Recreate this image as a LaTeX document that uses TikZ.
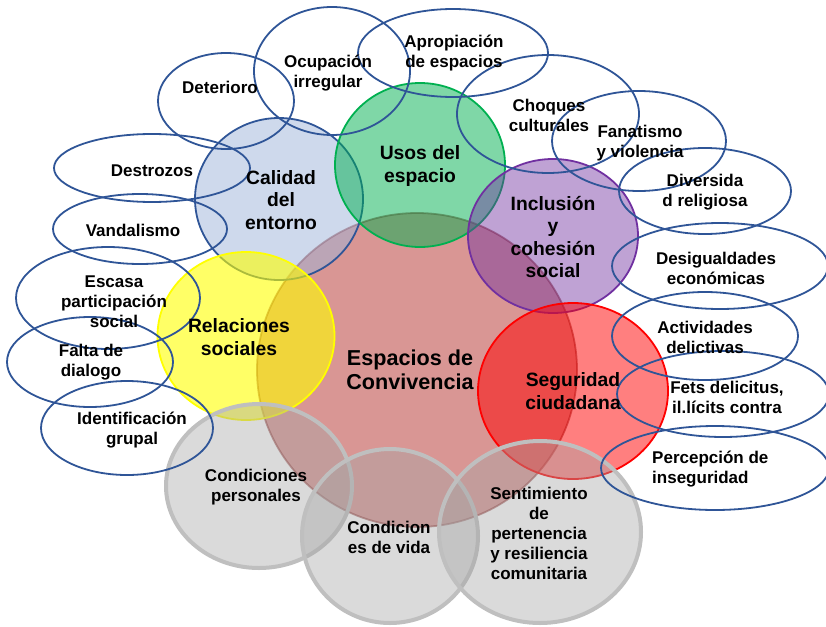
\documentclass[tikz,border=0pt]{standalone}
\usepackage{fontspec}
\setmainfont{Liberation Sans}
\usetikzlibrary{shapes.geometric}
\definecolor{ringblue}{HTML}{2F5597}
\definecolor{coreRed}{HTML}{C0504D}
\definecolor{coreEdge}{HTML}{8C3432}
\definecolor{calBlue}{HTML}{9DB3D9}
\definecolor{usoGreen}{HTML}{00B050}
\definecolor{incPurple}{HTML}{7030A0}
\definecolor{relYellow}{HTML}{FFFF00}
\definecolor{segRed}{HTML}{FF0000}
\definecolor{condFill}{HTML}{A6A6A6}
\definecolor{condEdge}{HTML}{BFBFBF}
\begin{document}
\begin{tikzpicture}[x=1pt,y=-1pt,
  rxy/.style 2 args={minimum width={2*#1}, minimum height={2*#2}},
  blob/.style={ellipse, inner sep=0pt, outer sep=0pt, line width=1.8pt},
  ring/.style={ellipse, inner sep=0pt, outer sep=0pt, draw=ringblue, line width=1.8pt},
  small/.style={font=\bfseries\fontsize{17}{20}\selectfont, align=center, inner sep=0pt},
  mid/.style={font=\bfseries\fontsize{19.3}{22.5}\selectfont, align=center, inner sep=0pt},
  large/.style={font=\bfseries\fontsize{21.6}{24.5}\selectfont, align=center, inner sep=0pt},
  condition/.style={blob, fill=condFill, fill opacity=.42, draw=condEdge, line width=4pt}
]
\useasboundingbox (0,0) rectangle (826,626);

% central circle
\node[blob, rxy={160}{157}, fill=coreRed, fill opacity=.6, draw=coreEdge, draw opacity=.6] (core) at (417,370) {};

% surrounding themes
\node[blob, rxy={84}{81}, fill=calBlue, fill opacity=.5, draw=ringblue] (calidad) at (279,199) {};
\node[blob, rxy={85}{82}, fill=usoGreen, fill opacity=.5, draw=usoGreen] (usos) at (420,165) {};
\node[blob, rxy={85}{77}, fill=incPurple, fill opacity=.45, draw=incPurple] (inclusion) at (553,236) {};
\node[blob, rxy={88.5}{84}, fill=relYellow, fill opacity=.6, draw=relYellow] (relaciones) at (246,336) {};
\node[blob, rxy={95}{88}, fill=segRed, fill opacity=.5, draw=segRed] (seguridad) at (573,391) {};
\node[condition, rxy={93}{82}] (personales) at (259,486) {};
\node[condition, rxy={88}{87}] (vida) at (390,536) {};
\node[condition, rxy={101}{91}] (sentimiento) at (540,532) {};

% outer factor rings
\node[ring, rxy={68}{48}] (deterioro) at (226,101) {};
\node[ring, rxy={78}{64}] (ocupacion) at (332,71) {};
\node[ring, rxy={95}{44}] (apropiacion) at (453,53) {};
\node[ring, rxy={91}{59}] (choques) at (548,114) {};
\node[ring, rxy={87}{50}] (fanatismo) at (639,141) {};
\node[ring, rxy={86}{43}] (diversidad) at (705,191) {};
\node[ring, rxy={108}{43}] (desigualdades) at (720,266) {};
\node[ring, rxy={93}{44}] (actividades) at (705,336) {};
\node[ring, rxy={106}{43}] (fets) at (723,394) {};
\node[ring, rxy={114}{42}] (percepcion) at (715,468) {};
\node[ring, rxy={98}{34}] (destrozos) at (152,168) {};
\node[ring, rxy={87}{35}] (vandalismo) at (140,229) {};
\node[ring, rxy={92}{51}] (escasa) at (108,298) {};
\node[ring, rxy={83}{45}] (falta) at (90,362) {};
\node[ring, rxy={86}{47}] (identificacion) at (127,428) {};

% labels of the circles
\node[large] (t-core) at (410,370) {Espacios de\\Convivencia};
\node[mid] (t-calidad) at (281,200) {Calidad\\del\\entorno};
\node[mid] (t-usos) at (420,166) {Usos del\\espacio};
\node[mid] (t-inclusion) at (553,237) {Inclusión\\y\\cohesión\\social};
\node[mid] (t-relaciones) at (239,337) {Relaciones\\sociales};
\node[mid] (t-seguridad) at (573,391) {Seguridad\\ciudadana};
\node[small] (t-personales) at (256,487) {Condiciones\\personales};
\node[small] (t-vida) at (389,537) {Condicion\\es de vida};
\node[small] (t-sentimiento) at (539,533) {Sentimiento\\de\\pertenencia\\y resiliencia\\comunitaria};

% labels of the rings
\node[small] (t-deterioro) at (220,87) {Deterioro};
\node[small] (t-ocupacion) at (328,73) {Ocupación\\irregular};
\node[small] (t-apropiacion) at (454,53) {Apropiación\\de espacios};
\node[small] (t-choques) at (549,115) {Choques\\culturales};
\node[small] (t-fanatismo) at (640,143) {Fanatismo\\y violencia};
\node[small] (t-diversidad) at (705,192) {Diversida\\d religiosa};
\node[small] (t-desigualdades) at (716,268) {Desigualdades\\económicas};
\node[small] (t-actividades) at (705,337) {Actividades\\delictivas};
\node[small] (t-fets) at (727,397) {Fets delicitus,\\il.lícits contra};
\node[small, align=left, anchor=west] (t-percepcion) at (652,469) {Percepción de\\inseguridad};
\node[small] (t-destrozos) at (152,171) {Destrozos};
\node[small] (t-vandalismo) at (133,230) {Vandalismo};
\node[small] (t-escasa) at (114,302) {Escasa\\participación\\social};
\node[small] (t-falta) at (91,362) {Falta de\\dialogo};
\node[small] (t-identificacion) at (132,430) {Identificación\\grupal};
\end{tikzpicture}
\end{document}
